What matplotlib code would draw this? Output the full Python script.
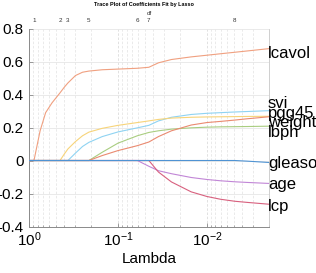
import matplotlib
matplotlib.use('Agg')
import matplotlib.pyplot as plt
from matplotlib.ticker import LogLocator, NullFormatter, FixedLocator

plt.rcParams['font.family'] = ['Liberation Sans', 'DejaVu Sans']
plt.rcParams['axes.unicode_minus'] = False
plt.rcParams['mathtext.fontset'] = 'custom'
plt.rcParams['mathtext.rm'] = 'Liberation Sans'
plt.rcParams['mathtext.it'] = 'Liberation Sans'
plt.rcParams['mathtext.bf'] = 'Liberation Sans:bold'

# ---- data ----
lambdas = [1.0, 0.879, 0.75, 0.65, 0.55, 0.448, 0.4, 0.365, 0.3, 0.25, 0.212, 0.15,
           0.1, 0.0604, 0.0449, 0.035, 0.025, 0.015, 0.01, 0.007, 0.00485, 0.0035, 0.002]

lcavol = [0, 0, 0.18, 0.29, 0.35, 0.41, 0.445, 0.47, 0.515, 0.535, 0.542, 0.55,
          0.554, 0.559, 0.565, 0.592, 0.612, 0.628, 0.638, 0.647, 0.656, 0.664, 0.678]
pgg45 = [0, 0, 0, 0, 0, 0, 0.04, 0.07, 0.115, 0.15, 0.172, 0.195,
         0.213, 0.23, 0.24, 0.249, 0.257, 0.262, 0.264, 0.265, 0.266, 0.267, 0.268]
svi = [0, 0, 0, 0, 0, 0, 0, 0, 0.045, 0.085, 0.11, 0.145,
       0.173, 0.198, 0.213, 0.24, 0.262, 0.279, 0.286, 0.29, 0.294, 0.297, 0.302]
lweight = [0, 0, 0, 0, 0, 0, 0, 0, 0, 0, 0, 0.03,
           0.06, 0.09, 0.112, 0.145, 0.18, 0.215, 0.23, 0.237, 0.245, 0.253, 0.265]
lbph = [0, 0, 0, 0, 0, 0, 0, 0, 0, 0, 0, 0.05,
        0.105, 0.15, 0.17, 0.18, 0.19, 0.198, 0.202, 0.204, 0.205, 0.206, 0.208]
gleason = [0, 0, 0, 0, 0, 0, 0, 0, 0, 0, 0, 0,
           0, 0, 0, 0, 0, 0, 0, 0, 0, -0.004, -0.012]
age = [0, 0, 0, 0, 0, 0, 0, 0, 0, 0, 0, 0,
       0, 0, -0.035, -0.062, -0.08, -0.103, -0.115, -0.123, -0.129, -0.133, -0.139]
lcp = [0, 0, 0, 0, 0, 0, 0, 0, 0, 0, 0, 0,
       0, 0, 0, -0.07, -0.13, -0.19, -0.218, -0.235, -0.247, -0.254, -0.265]

series_names = ['lcavol', 'svi', 'pgg45', 'weight', 'lbph', 'gleason', 'age', 'lcp']
series_values = [lcavol, svi, pgg45, lweight, lbph, gleason, age, lcp]
series_colors = ['#f0a080', '#8fd3f2', '#f7d47a', '#ea8a70', '#a9cd80', '#4f93d3', '#c186d6', '#d8607e']
label_y = [0.623, 0.318, 0.257, 0.204, 0.143, -0.048, -0.17, -0.308]

df_lambdas = [0.879, 0.448, 0.365, 0.212, 0.0604, 0.0449, 0.00485]
df_labels = ['1', '2', '3', '5', '6', '7', '8']

yticks = [-0.4, -0.2, 0, 0.2, 0.4, 0.6, 0.8]
ytick_labels = ['-0.4', '-0.2', '0', '0.2', '0.4', '0.6', '0.8']

# ---- figure ----
fig = plt.figure(figsize=(3.16, 2.73), dpi=100)
ax = fig.add_axes([29 / 316, 1 - 226.5 / 273, 240 / 316, 198 / 273])

ax.set_xscale('log')
ax.set_xlim(1.0, 0.002)
ax.set_ylim(-0.4, 0.8)

draw_order = [1, 2, 4, 3, 0, 6, 7, 5]
for i in draw_order:
    ax.plot(lambdas, series_values[i], color=series_colors[i], lw=0.8, zorder=3)

for name, yv in zip(series_names, label_y):
    ax.text(0.00205, yv, name, fontsize=12, ha='left', va='baseline',
            clip_on=False, zorder=5)

# grid
ax.xaxis.set_major_locator(LogLocator(base=10, numticks=10))
ax.xaxis.set_minor_locator(LogLocator(base=10, subs=range(2, 10), numticks=20))
ax.xaxis.set_minor_formatter(NullFormatter())
ax.grid(True, which='major', axis='x', color='#dcdcdc', ls=(0, (3, 2)), lw=0.6)
ax.grid(True, which='minor', axis='x', color='#e6e6e6', ls=(0, (3, 2)), lw=0.6)
ax.grid(True, which='major', axis='y', color='#e6e6e6', ls='-', lw=0.6)
ax.set_axisbelow(True)

ax.set_yticks(yticks)
ax.set_yticklabels(ytick_labels)
ax.tick_params(axis='both', which='major', direction='in', length=3, width=0.5,
               labelsize=11, color='#777777', top=False, right=False)
ax.tick_params(axis='x', which='minor', direction='in', length=1.8, width=0.4,
               color='#777777', top=False)
ax.tick_params(axis='y', pad=4)
ax.tick_params(axis='x', pad=3)

for s in ['left', 'bottom']:
    ax.spines[s].set_color('#8a8a8a')
    ax.spines[s].set_linewidth(0.7)
ax.spines['right'].set_color('#c8c8c8')
ax.spines['right'].set_linewidth(0.6)
ax.spines['top'].set_visible(False)

ax.set_xlabel('Lambda', fontsize=11, labelpad=2)

# top df axis
ax2 = ax.twiny()
ax2.set_xscale('log')
ax2.set_xlim(ax.get_xlim())
ax2.xaxis.set_major_locator(FixedLocator(df_lambdas))
ax2.xaxis.set_minor_locator(FixedLocator([]))
ax2.set_xticklabels(df_labels)
ax2.tick_params(axis='x', length=0, labelsize=4.5, pad=4, colors='#333333')
for s in ax2.spines.values():
    s.set_visible(False)
ax2.set_xlabel('df', fontsize=4.5, labelpad=2, color='#333333')

fig.text(144 / 316, 1 - 4.5 / 273, 'Trace Plot of Coefficients Fit by Lasso',
         fontsize=4, fontweight='bold', ha='center', va='center')

fig.savefig('out.png', dpi=100)
